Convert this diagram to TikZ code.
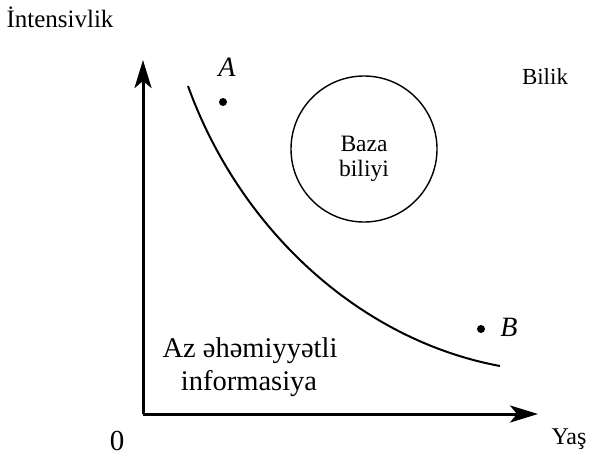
\documentclass[tikz,border=0pt]{standalone}
\usepackage{fontspec}
\setmainfont{Liberation Serif}
\usetikzlibrary{arrows.meta}
\begin{document}
\begin{tikzpicture}[x=1pt,y=-1pt,
  axis/.style={line width=3pt,-{Stealth[length=28pt,width=17pt,inset=7pt]}},
  lbl/.style={inner sep=0pt,align=center},
  bl/.style={inner sep=0pt,anchor=base},
  dot/.style={circle,fill=black,inner sep=0pt,minimum size=8pt}]
\useasboundingbox (0,0) rectangle (601,461);
\coordinate (O) at (143,414);
\coordinate (ytip) at (143,60);
\coordinate (xtip) at (538,414);
\draw[axis] (O) -- (ytip);
\draw[axis] (O) -- (xtip);
\node[draw,circle,line width=1.4pt,minimum size=146pt,inner sep=0pt] (kb) at (364,149) {};
\node[bl,font=\fontsize{23.5}{26}\selectfont] (kb1) at (364,151) {Baza};
\node[bl,font=\fontsize{23.5}{26}\selectfont] (kb2) at (364,176) {biliyi};
\draw[line width=2pt] (188,86) .. controls (240,230) and (360,340) .. (500,366);
\node[dot] (a) at (223,102) {};
\node[dot] (b) at (481,329) {};
\node[lbl,font=\fontsize{28}{32}\selectfont\itshape] (al) at (227,67) {A};
\node[lbl,font=\fontsize{28}{32}\selectfont\itshape] (bl) at (509,327) {B};
\node[lbl,font=\fontsize{23}{26}\selectfont] (bilik) at (545,77) {Bilik};
\node[bl,font=\fontsize{28.5}{32}\selectfont] (az1) at (250,357) {Az əhəmiyyətli};
\node[bl,font=\fontsize{28.5}{32}\selectfont] (az2) at (249,390) {informasiya};
\node[lbl,font=\fontsize{29}{32}\selectfont] (zero) at (117,441) {0};
\node[lbl,font=\fontsize{24}{28}\selectfont] (yas) at (569,439) {Yaş};
\node[lbl,font=\fontsize{25}{28}\selectfont] (int) at (60,17) {İntensivlik};
\end{tikzpicture}
\end{document}
